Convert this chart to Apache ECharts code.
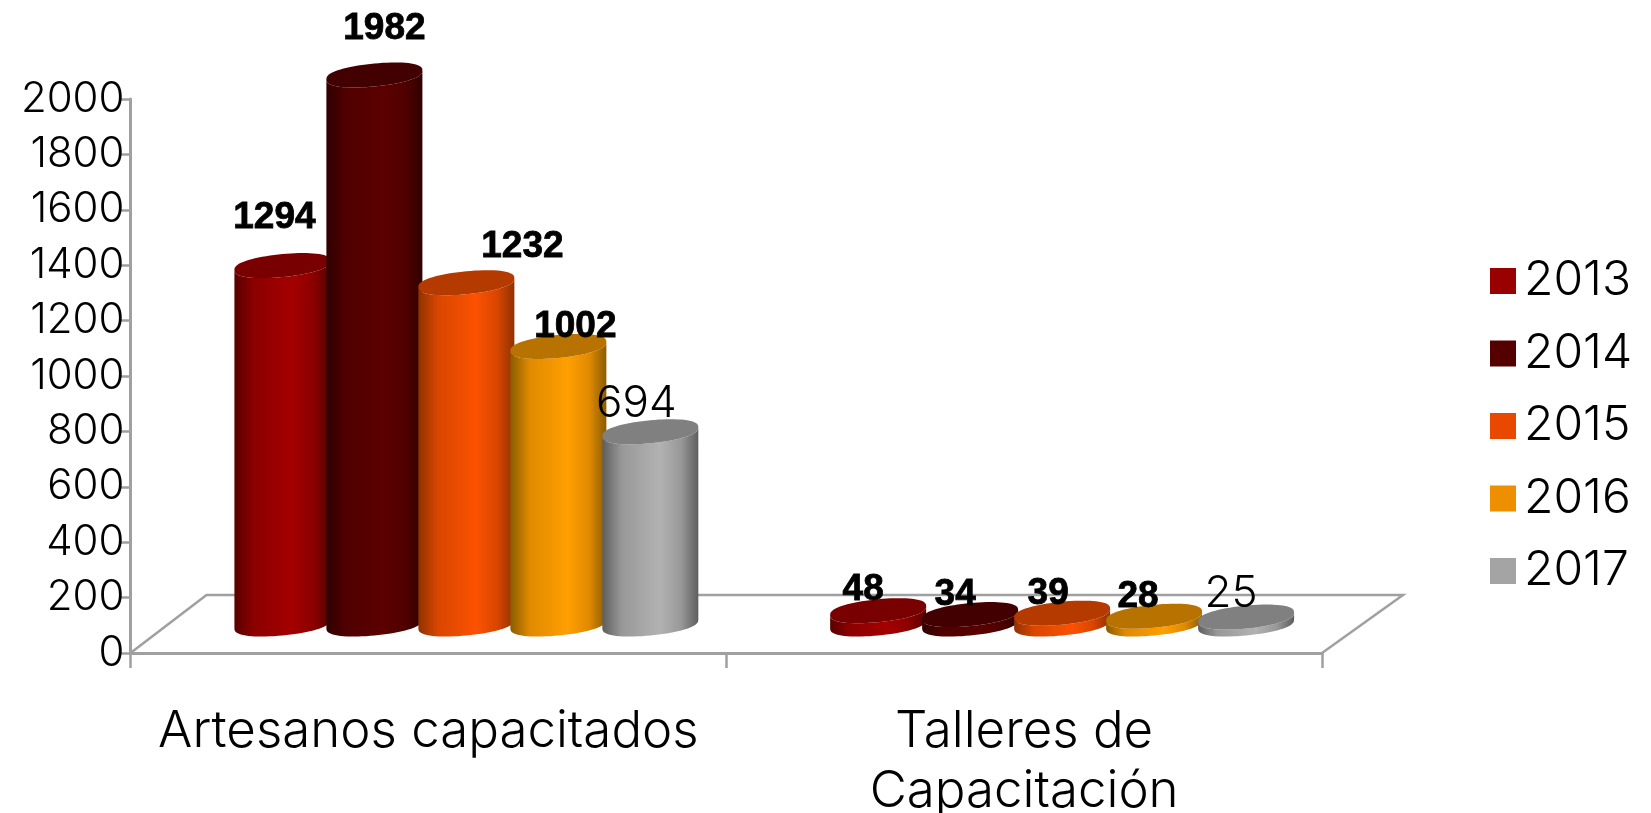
<!DOCTYPE html>
<html><head><meta charset="utf-8">
<style>html,body{margin:0;padding:0;background:#fff}#c{width:1651px;height:813px}</style>
<script src="https://cdn.jsdelivr.net/npm/echarts@6/dist/echarts.min.js"></script>
</head><body><div id="c"></div>
<script>
const categories = ['Artesanos capacitados', 'Talleres de\nCapacitación'];
const yTicks = { min: 0, max: 2000, interval: 200 };
const years = ['2013', '2014', '2015', '2016', '2017'];
const v2013 = [1294, 48];
const v2014 = [1982, 34];
const v2015 = [1232, 39];
const v2016 = [1002, 28];
const v2017 = [694, 25];
const seriesValues = [v2013, v2014, v2015, v2016, v2017];

// styling
const legendColors = ['#990000', '#550000', '#e94800', '#ee8f00', '#a4a4a4'];
const bodyMid = ['#a40000', '#5c0000', '#fb5200', '#ff9f00', '#b2b2b2'];
const bodySide = ['#8c0000', '#500000', '#d94600', '#e08a00', '#989898'];
const bodyEdge = ['#580000', '#300000', '#8f3200', '#8a5c00', '#5e5e5e'];
const topColors = ['#790000', '#430000', '#b43a00', '#b87200', '#808080'];
const labelBold = [true, true, true, true, false];
// hand placement of labels relative to cylinder top centre [category][year] = [dx, dy]
const labelOffsets = [
  [[-8, -48], [10, -46], [56, -36], [17, -20], [-14, -28]],
  [[-15, 0], [-15, 0], [-14, 0], [-16, 0], [-15, 0]]
];
const labelFixedY = [null, [590, 595, 594, 597, 594]];

const DEPTH_X = 76, DEPTH_Y = 58, PITCH = 0.1544, RAD_X = 48, RAD_Y = 11.5, SHEAR = 4.5, BLUNT = 0.8;
const TEXT_FONT = 'Inter';

function rim(cx, cy, t) {
  const s = Math.sin(t);
  return [cx + RAD_X * Math.cos(t), cy + RAD_Y * Math.sign(s) * Math.pow(Math.abs(s), BLUNT) - SHEAR * Math.cos(t)];
}
function ellipsePoints(cx, cy) {
  const pts = [];
  for (let i = 0; i <= 72; i++) pts.push(rim(cx, cy, i / 72 * Math.PI * 2));
  return pts;
}
function bodyPoints(cx, yTop, yBase) {
  const pts = [];
  for (let i = 0; i <= 36; i++) pts.push(rim(cx, yBase, i / 36 * Math.PI));
  for (let i = 36; i >= 0; i--) pts.push(rim(cx, yTop, i / 36 * Math.PI));
  return pts;
}

function cylinder(s) {
  return function (params, api) {
    const c = api.value(0), val = api.value(1);
    const band = api.size([1, 0])[0];
    const top = api.coord([c, val]), base = api.coord([c, 0]);
    const cx = top[0] + DEPTH_X / 2 + (s - 2) * PITCH * band;
    const yTop = top[1] - DEPTH_Y / 2, yBase = base[1] - DEPTH_Y / 2;
    const grad = new echarts.graphic.LinearGradient(0, 0, 1, 0, [
      { offset: 0, color: bodyEdge[s] },
      { offset: 0.2, color: bodySide[s] },
      { offset: 0.6, color: bodyMid[s] },
      { offset: 0.82, color: bodySide[s] },
      { offset: 1, color: bodyEdge[s] }
    ]);
    const off = labelOffsets[c][s];
    const ly = labelFixedY[c] ? labelFixedY[c][s] : yTop + off[1];
    const bold = labelBold[s];
    return {
      type: 'group',
      children: [
        { type: 'polygon', shape: { points: bodyPoints(cx, yTop, yBase) }, style: { fill: grad } },
        { type: 'polygon', shape: { points: ellipsePoints(cx, yTop) }, style: { fill: topColors[s] } },
        { type: 'text', z2: 50, style: {
            x: cx + off[0], y: ly, text: String(val), align: 'center', verticalAlign: 'middle',
            fill: '#000', stroke: bold ? '#000' : null, lineWidth: bold ? 0.8 : 0,
            font: bold ? 'bold 37px "Liberation Sans"' : '300 44px ' + TEXT_FONT
        } }
      ]
    };
  };
}

function floor(params, api) {
  const g = params.coordSys;
  const x0 = g.x, x1 = g.x + g.width, yf = g.y + g.height;
  return {
    type: 'polyline',
    shape: { points: [[x0, yf], [x0 + DEPTH_X, yf - DEPTH_Y], [x1 + DEPTH_X + 5, yf - DEPTH_Y], [x1, yf]] },
    style: { stroke: '#a0a0a0', lineWidth: 2.5, fill: null }
  };
}

const series = [{
  type: 'custom', name: 'floor', silent: true, z: 1, data: [[0, 0]],
  encode: { x: 0, y: 1 }, renderItem: floor
}];
years.forEach((y, s) => series.push({
  type: 'custom', name: y, z: 2 + s, coordinateSystem: 'cartesian2d',
  itemStyle: { color: legendColors[s] },
  encode: { x: 0, y: 1 },
  data: seriesValues[s].map((v, i) => [i, v]),
  renderItem: cylinder(s)
}));

const chart = echarts.init(document.getElementById('c'), null, { renderer: 'canvas' });
chart.setOption({
  animation: false,
  backgroundColor: '#fff',
  grid: { left: 130.5, right: 329, top: 99, bottom: 160, containLabel: false, outerBoundsMode: 'none' },
  xAxis: {
    type: 'category', data: categories, boundaryGap: true,
    axisLine: { lineStyle: { color: '#a0a0a0', width: 3 } },
    axisTick: { show: true, length: 15, lineStyle: { color: '#a0a0a0', width: 2.5 } },
    axisLabel: { color: '#000', fontFamily: TEXT_FONT, fontWeight: 300, fontSize: 51, lineHeight: 60, margin: 49, interval: 0 },
    splitLine: { show: false }
  },
  yAxis: {
    type: 'value', min: yTicks.min, max: yTicks.max, interval: yTicks.interval,
    axisLine: { show: true, lineStyle: { color: '#a0a0a0', width: 3 } },
    axisTick: { show: true, length: 10, lineStyle: { color: '#a0a0a0', width: 2.5 } },
    axisLabel: { color: '#000', fontFamily: TEXT_FONT, fontWeight: 300, fontSize: 42, margin: 6, padding: [8, 0, 0, 0], formatter: v => String(v) },
    splitLine: { show: false }
  },
  legend: {
    orient: 'vertical', left: 1485, top: 249, itemWidth: 26, itemHeight: 26, itemGap: 18.5,
    icon: 'rect', data: years,
    textStyle: { color: '#000', fontFamily: TEXT_FONT, fontWeight: 300, fontSize: 48, lineHeight: 54, padding: [0, 0, 0, 3] }
  },
  series: series
});
</script></body></html>
